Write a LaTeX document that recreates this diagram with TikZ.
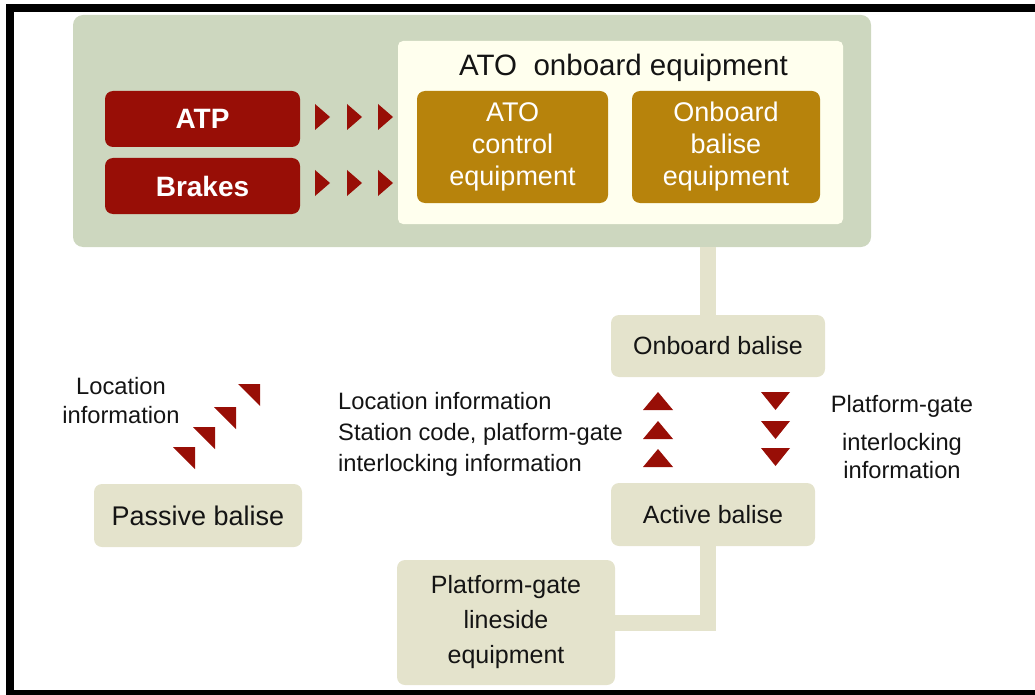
\documentclass[tikz,border=0pt]{standalone}
\usepackage{fontspec}
\setmainfont{Liberation Sans}

\definecolor{sage}{RGB}{205,215,191}
\definecolor{cream}{RGB}{255,255,238}
\definecolor{darkred}{RGB}{152,14,6}
\definecolor{gold}{RGB}{183,131,12}
\definecolor{beige}{RGB}{228,227,204}
\definecolor{ink}{RGB}{20,20,20}

\begin{document}
\begin{tikzpicture}[x = 1pt, y = -1pt]
    \tikzstyle{every node} = [inner sep = 0pt, align = center];
    \tikzstyle{unit} = [fill = sage, rounded corners = 10pt];
    \tikzstyle{panel} = [fill = cream, rounded corners = 5pt];
    \tikzstyle{redbox} = [fill = darkred, text = white, rounded corners = 8pt, minimum width = 195pt, minimum height = 56pt, font = \fontsize{28}{32}\selectfont\bfseries];
    \tikzstyle{goldbox} = [fill = gold, text = white, rounded corners = 8pt, minimum height = 112pt, font = \fontsize{27}{32}\selectfont];
    \tikzstyle{balise} = [fill = beige, text = ink, rounded corners = 8pt, font = \fontsize{25}{35}\selectfont];
    \tikzstyle{info} = [text = ink, font = \fontsize{23.7}{29}\selectfont];
    \tikzstyle{link} = [draw = beige, line width = 16pt];

    \useasboundingbox (0,0) rectangle (1035,695);
    % frame
    \fill (6,4) rectangle (1035,12);
    \fill (6,4) rectangle (14,695);
    \fill (6,690) rectangle (1035,695);

    % train side
    \node[unit, minimum width = 798pt, minimum height = 232pt] (train) at (472,131) {};
    \node[panel, minimum width = 445pt, minimum height = 183pt] (ato) at (620.5,132.5) {};
    \node[text = ink, font = \fontsize{29.5}{32}\selectfont] (atotitle) at (623.5,68) {ATO\ \ onboard equipment};
    \node[redbox] (atp) at (202.5,119) {ATP};
    \node[redbox] (brakes) at (202.5,186) {Brakes};
    \node[goldbox, minimum width = 191pt] (atoctrl) at (512.5,147) {ATO\\control\\equipment};
    \node[goldbox, minimum width = 188pt] (obequip) at (726,147) {Onboard\\balise\\equipment};

    % balises and wayside
    \node[balise, minimum width = 214pt, minimum height = 62pt] (onbal) at (718,346) {Onboard balise};
    \node[balise, minimum width = 204pt, minimum height = 63pt] (actbal) at (713,514.5) {Active balise};
    \node[balise, minimum width = 208pt, minimum height = 63pt, font = \fontsize{27}{32}\selectfont] (pasbal) at (198,515.5) {Passive balise};
    \node[balise, minimum width = 218pt, minimum height = 125pt] (lineside) at (506,622.5) {Platform-gate\\lineside\\equipment};

    \draw[link] ([xshift = -10pt]onbal.north) -- ([xshift = -10pt]onbal.north |- train.south);
    \draw[link] ([xshift = -5pt]actbal.south) |- (lineside.east);

    % labels
    \node[info] (locinfo) at (121,401) {Location\\information};
    \node[info, align = left, anchor = west, font = \fontsize{23.7}{31}\selectfont] (upinfo) at (338,434) {Location information\\Station code, platform-gate\\interlocking information};
    \node[info, font = \fontsize{23.7}{28}\selectfont] (downinfo) at (902,437) {Platform-gate\\[10pt]interlocking\\information};

    % arrow heads
    \foreach \y in {104,170}
        \foreach \x in {315,347,378}
            \fill[darkred] (\x,\y) -- ++(15,13) -- ++(-15,13) -- cycle;
    \foreach \y in {410,439,467}
        \fill[darkred] (643,\y) -- ++(30,0) -- ++(-15,-18) -- cycle;
    \foreach \y in {392,421,448}
        \fill[darkred] (761,\y) -- ++(29,0) -- ++(-14.5,18) -- cycle;
    \foreach \x/\y in {238/384,214/407,193/427,173/447}
        \fill[darkred] (\x,\y) -- ++(22,0) -- ++(0,22) -- cycle;
\end{tikzpicture}
\end{document}
